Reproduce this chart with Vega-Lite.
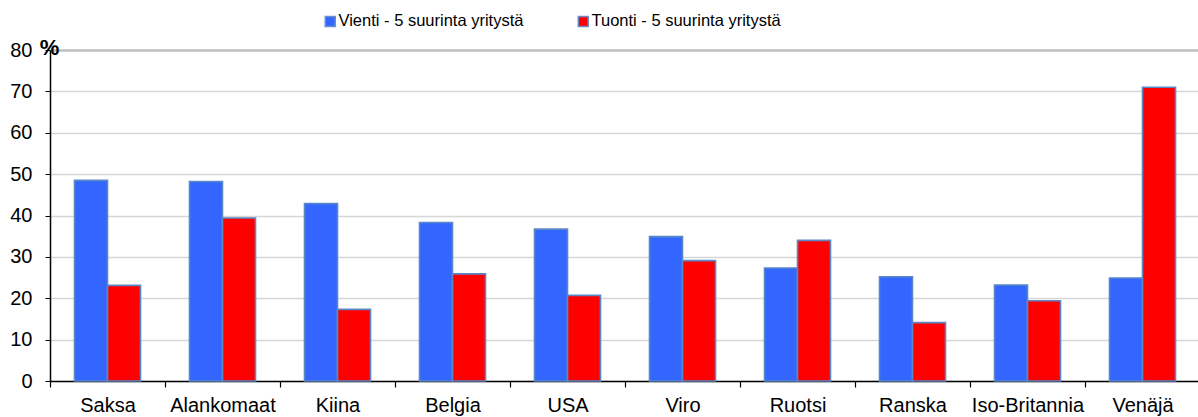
{
  "$schema": "https://vega.github.io/schema/vega-lite/v6.json",
  "width": 1150,
  "height": 331,
  "autosize": {"type": "none"},
  "padding": {"left": 50, "top": 50, "right": 0, "bottom": 36},
  "background": "white",
  "config": {
    "font": "Liberation Sans",
    "view": {"stroke": null}
  },
  "data": {
    "values": [
      {"maa": "Saksa", "sarja": "Vienti - 5 suurinta yritystä", "arvo": 48.5},
      {"maa": "Saksa", "sarja": "Tuonti - 5 suurinta yritystä", "arvo": 23.1},
      {"maa": "Alankomaat", "sarja": "Vienti - 5 suurinta yritystä", "arvo": 48.2},
      {"maa": "Alankomaat", "sarja": "Tuonti - 5 suurinta yritystä", "arvo": 39.4},
      {"maa": "Kiina", "sarja": "Vienti - 5 suurinta yritystä", "arvo": 42.9},
      {"maa": "Kiina", "sarja": "Tuonti - 5 suurinta yritystä", "arvo": 17.3},
      {"maa": "Belgia", "sarja": "Vienti - 5 suurinta yritystä", "arvo": 38.3},
      {"maa": "Belgia", "sarja": "Tuonti - 5 suurinta yritystä", "arvo": 25.9},
      {"maa": "USA", "sarja": "Vienti - 5 suurinta yritystä", "arvo": 36.7},
      {"maa": "USA", "sarja": "Tuonti - 5 suurinta yritystä", "arvo": 20.7},
      {"maa": "Viro", "sarja": "Vienti - 5 suurinta yritystä", "arvo": 34.9},
      {"maa": "Viro", "sarja": "Tuonti - 5 suurinta yritystä", "arvo": 29.1},
      {"maa": "Ruotsi", "sarja": "Vienti - 5 suurinta yritystä", "arvo": 27.3},
      {"maa": "Ruotsi", "sarja": "Tuonti - 5 suurinta yritystä", "arvo": 34.0},
      {"maa": "Ranska", "sarja": "Vienti - 5 suurinta yritystä", "arvo": 25.2},
      {"maa": "Ranska", "sarja": "Tuonti - 5 suurinta yritystä", "arvo": 14.1},
      {"maa": "Iso-Britannia", "sarja": "Vienti - 5 suurinta yritystä", "arvo": 23.2},
      {"maa": "Iso-Britannia", "sarja": "Tuonti - 5 suurinta yritystä", "arvo": 19.4},
      {"maa": "Venäjä", "sarja": "Vienti - 5 suurinta yritystä", "arvo": 24.9},
      {"maa": "Venäjä", "sarja": "Tuonti - 5 suurinta yritystä", "arvo": 71.0}
    ]
  },
  "mark": {"type": "bar", "stroke": "#5A87C5", "strokeWidth": 1.6},
  "encoding": {
    "x": {
      "field": "maa",
      "type": "nominal",
      "sort": null,
      "scale": {"paddingInner": 0, "paddingOuter": 0},
      "axis": {
        "title": null,
        "labelAngle": 0,
        "labelFontSize": 20,
        "labelColor": "#000000",
        "labelPadding": 8,
        "tickBand": "extent",
        "tickSize": 6,
        "tickColor": "#000000",
        "domainColor": "#000000",
        "domainWidth": 1.5,
        "tickWidth": 1.2,
        "grid": false
      }
    },
    "xOffset": {
      "field": "sarja",
      "type": "nominal",
      "scale": {
        "domain": ["Vienti - 5 suurinta yritystä", "Tuonti - 5 suurinta yritystä"],
        "paddingInner": 0,
        "paddingOuter": 0.742
      }
    },
    "y": {
      "field": "arvo",
      "type": "quantitative",
      "scale": {"domain": [0, 80], "nice": false},
      "axis": {
        "values": [0, 10, 20, 30, 40, 50, 60, 70, 80],
        "title": "%",
        "titleAngle": 0,
        "titleFontSize": 22,
        "titleFontWeight": "bold",
        "titleAlign": "center",
        "titleBaseline": "alphabetic",
        "titleX": -1,
        "titleY": 4,
        "titleColor": "#000000",
        "labelFontSize": 20,
        "labelColor": "#000000",
        "labelPadding": 13,
        "tickSize": 5,
        "tickColor": "#000000",
        "domainColor": "#000000",
        "domainWidth": 1.5,
        "gridColor": {"condition": {"test": "datum.value === 80", "value": "#BEBEBE"}, "value": "#D6D6D6"},
        "gridWidth": {"condition": {"test": "datum.value === 80", "value": 2.5}, "value": 1.5}
      }
    },
    "color": {
      "field": "sarja",
      "type": "nominal",
      "scale": {
        "domain": ["Vienti - 5 suurinta yritystä", "Tuonti - 5 suurinta yritystä"],
        "range": ["#3366FF", "#FF0000"]
      },
      "legend": {
        "title": null,
        "orient": "none",
        "direction": "horizontal",
        "legendX": 272,
        "legendY": -37,
        "symbolType": "square",
        "symbolSize": 100,
        "symbolStrokeColor": "#6A8FC8",
        "symbolStrokeWidth": 1.5,
        "labelFontSize": 16.5,
        "labelColor": "#000000",
        "labelLimit": 400,
        "labelOffset": 0,
        "columnPadding": 51
      }
    }
  }
}
